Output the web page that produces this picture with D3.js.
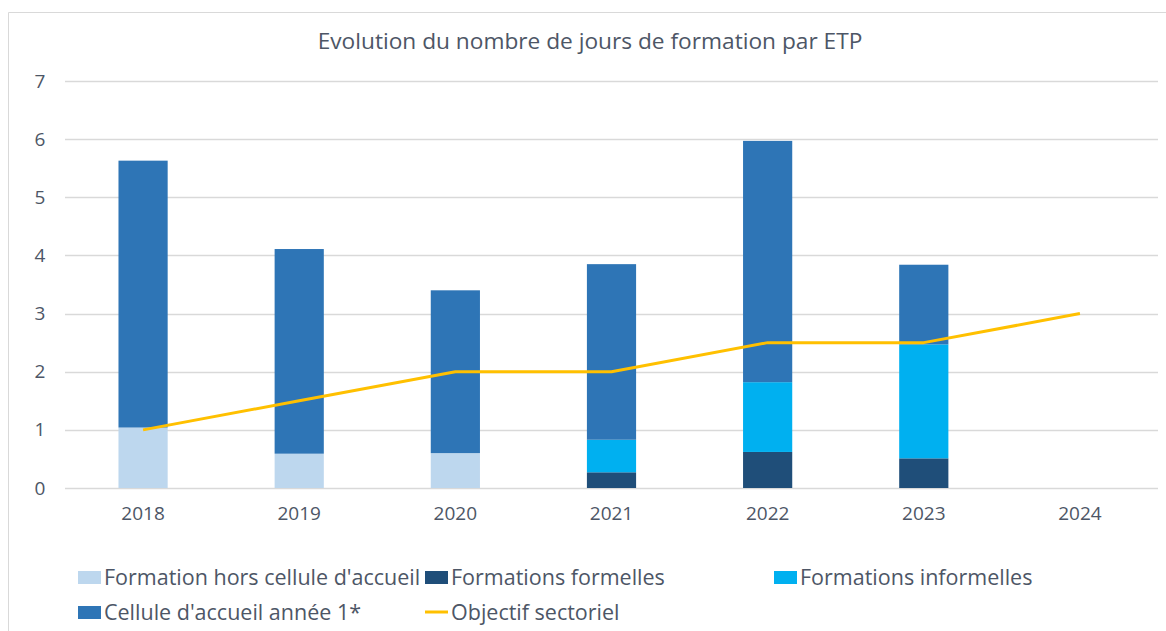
<!DOCTYPE html>
<html>
<head>
<meta charset="utf-8">
<script src="https://cdn.jsdelivr.net/npm/d3@7"></script>
<style>
  html, body { margin: 0; padding: 0; background: #fff; }
  text { font-family: "Open Sans", Lato, sans-serif; fill: #4d5666; }
</style>
</head>
<body>
<div id="chart"></div>
<script>
const SIZE = { width: 1166, height: 631 }

const years = ['2018', '2019', '2020', '2021', '2022', '2023', '2024']
const horsCellule = [1.04, 0.59, 0.60, 0, 0, 0, 0]
const formelles = [0, 0, 0, 0.27, 0.62, 0.51, 0]
const informelles = [0, 0, 0, 0.56, 1.20, 1.96, 0]
const celluleAccueil = [4.59, 3.52, 2.80, 3.02, 4.15, 1.37, 0]
const objectif = [1, 1.5, 2, 2, 2.5, 2.5, 3]
const yTicks = [0, 1, 2, 3, 4, 5, 6, 7]

const series = [
  { key: 'hors', name: "Formation hors cellule d'accueil", values: horsCellule, color: '#bdd7ee' },
  { key: 'formelles', name: 'Formations formelles', values: formelles, color: '#1f4e79' },
  { key: 'informelles', name: 'Formations informelles', values: informelles, color: '#00b0f0' },
  { key: 'cellule', name: "Cellule d'accueil année 1*", values: celluleAccueil, color: '#2e75b6' },
]
const lineColor = '#ffc000'

const rows = years.map((y, i) => {
  const r = { year: y }
  series.forEach(s => { r[s.key] = s.values[i] })
  return r
})

const plot = { left: 65, right: 1158, top: 81, bottom: 488 }

const svg = d3.select('#chart')
  .append('svg')
  .attr('width', SIZE.width)
  .attr('height', SIZE.height)

// chart frame (only top and left edges are visible in the picture)
svg.append('path')
  .attr('d', `M8.5,${SIZE.height} V12.5 H${SIZE.width}`)
  .attr('fill', 'none')
  .attr('stroke', '#d9d9d9')

svg.append('text')
  .attr('x', 590)
  .attr('y', 49)
  .attr('text-anchor', 'middle')
  .attr('font-size', 22.7)
  .text('Evolution du nombre de jours de formation par ETP')

const x = d3.scaleBand()
  .domain(years)
  .range([plot.left, plot.right])
  .paddingInner(0.685)
  .paddingOuter(0.3425)

const y = d3.scaleLinear()
  .domain([0, 7])
  .range([plot.bottom, plot.top])

// gridlines
svg.append('g')
  .selectAll('line')
  .data(yTicks)
  .enter()
  .append('line')
  .attr('x1', plot.left)
  .attr('x2', plot.right)
  .attr('y1', d => Math.round(y(d)) + 0.5)
  .attr('y2', d => Math.round(y(d)) + 0.5)
  .attr('stroke', '#d9d9d9')
  .attr('stroke-width', 1.5)

// y axis labels
const yAxis = d3.axisLeft(y).tickValues(yTicks).tickFormat(d3.format('d')).tickSize(0).tickPadding(0)
svg.append('g')
  .attr('transform', 'translate(45,0)')
  .call(yAxis)
  .call(g => g.select('.domain').remove())
  .call(g => g.selectAll('text')
    .attr('font-size', 19)
    .attr('font-family', '"Open Sans", sans-serif')
    .attr('fill', '#4d5666')
    .attr('text-anchor', 'middle')
    .attr('x', -5))

// x axis labels
const xAxis = d3.axisBottom(x).tickSize(0).tickPadding(0)
svg.append('g')
  .attr('transform', `translate(0,${plot.bottom + 18})`)
  .call(xAxis)
  .call(g => g.select('.domain').remove())
  .call(g => g.selectAll('text')
    .attr('font-size', 19)
    .attr('font-family', '"Open Sans", sans-serif')
    .attr('fill', '#4d5666'))

// stacked bars
const stack = d3.stack().keys(series.map(s => s.key))
const layers = stack(rows)

svg.append('g')
  .selectAll('g')
  .data(layers)
  .enter()
  .append('g')
  .attr('fill', (d, i) => series[i].color)
  .selectAll('rect')
  .data(d => d)
  .enter()
  .append('rect')
  .attr('x', d => x(d.data.year))
  .attr('width', x.bandwidth())
  .attr('y', d => y(d[1]))
  .attr('height', d => Math.max(0, y(d[0]) - y(d[1])))

// objective line
const line = d3.line()
  .x((d, i) => x(years[i]) + x.bandwidth() / 2)
  .y(d => y(d))

svg.append('path')
  .datum(objectif)
  .attr('d', line)
  .attr('fill', 'none')
  .attr('stroke', lineColor)
  .attr('stroke-width', 3)
  .attr('stroke-linejoin', 'round')

// legend
const legendItems = [
  { name: series[0].name, color: series[0].color, type: 'rect', x: 78, y: 577 },
  { name: series[1].name, color: series[1].color, type: 'rect', x: 425, y: 577 },
  { name: series[2].name, color: series[2].color, type: 'rect', x: 774, y: 577 },
  { name: series[3].name, color: series[3].color, type: 'rect', x: 78, y: 612 },
  { name: 'Objectif sectoriel', color: lineColor, type: 'line', x: 425, y: 612 },
]

const legend = svg.append('g')
  .selectAll('g')
  .data(legendItems)
  .enter()
  .append('g')
  .attr('transform', d => `translate(${d.x},${d.y})`)

legend.filter(d => d.type === 'rect')
  .append('rect')
  .attr('x', 0)
  .attr('y', -6)
  .attr('width', 23)
  .attr('height', 13)
  .attr('fill', d => d.color)

legend.filter(d => d.type === 'line')
  .append('line')
  .attr('x1', 0)
  .attr('x2', 23)
  .attr('y1', 0)
  .attr('y2', 0)
  .attr('stroke', d => d.color)
  .attr('stroke-width', 3)

legend.append('text')
  .attr('x', 26)
  .attr('y', 0)
  .attr('dy', '0.35em')
  .attr('font-size', 21.5)
  .text(d => d.name)
</script>
</body>
</html>
